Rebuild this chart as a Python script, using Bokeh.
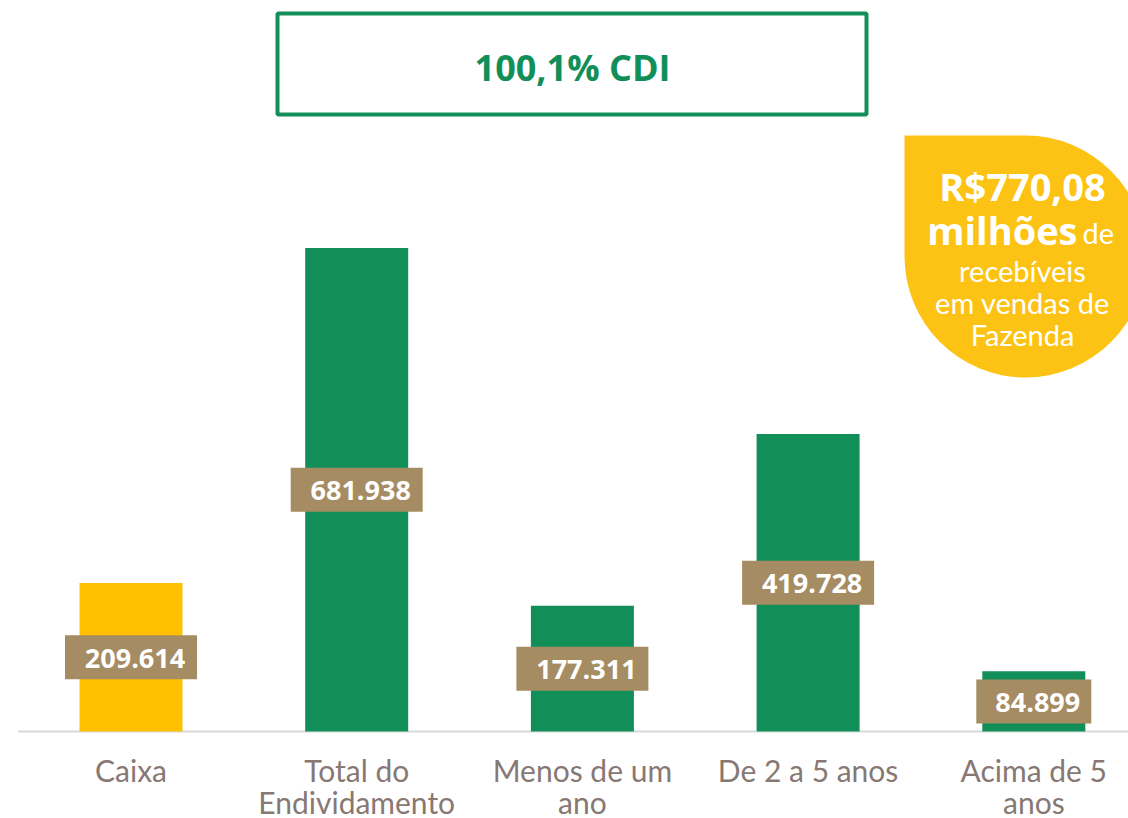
from bokeh.plotting import figure
from bokeh.models import Range1d, BoxAnnotation
from bokeh.core.properties import value
from bokeh.embed import file_html
from bokeh.resources import INLINE

# ---- data ----
categories = ["Caixa", "Total do Endividamento", "Menos de um ano", "De 2 a 5 anos", "Acima de 5 anos"]
tick_labels = ["Caixa", "Total do\nEndividamento", "Menos de um\nano", "De 2 a 5 anos", "Acima de 5\nanos"]
values = [209.614, 681.938, 177.311, 419.728, 84.899]
value_labels = ["209.614", "681.938", "177.311", "419.728", "84.899"]
bar_colors = ["#FFC000", "#128F59", "#128F59", "#128F59", "#128F59"]
headline = "100,1% CDI"
badge_amount = "R$770,08"
badge_unit = "milhões"
badge_unit_tail = "de"
badge_lines = ["recebíveis", "em vendas de", "Fazenda"]

# ---- layout ----
W, H = 1128, 818
SX = 225.7          # px per category
SY = 0.709          # px per unit
BASE = 731          # baseline, px from top
x_start = 0.5 - 130.5 / SX
x_end = x_start + W / SX
y_end = BASE / SY
y_start = -(H - BASE) / SY


def X(px):
    return x_start + px / SX


def Y(py):
    return y_end - py / SY


GREEN = "#128F59"
BROWN = "#A68C62"
LABEL = "#877873"
BADGE = "#FDC314"

p = figure(width=W, height=H, output_backend="svg", toolbar_location=None,
           x_range=Range1d(x_start, x_end), y_range=Range1d(y_start, y_end),
           min_border=0, min_border_left=0, min_border_right=0,
           min_border_top=0, min_border_bottom=0)
p.axis.visible = False
p.grid.visible = False
p.outline_line_color = None
p.background_fill_color = "white"
p.border_fill_color = "white"

xpos = [i + 0.5 for i in range(len(categories))]

# axis line
p.segment(x0=[0], y0=[0], x1=[x_end], y1=[0], line_color="#D9D9D9", line_width=2)

# bars
p.vbar(x=xpos, top=values, bottom=0, width=103 / SX, fill_color=bar_colors, line_color=None)

# value labels
mid = [v / 2 for v in values]
box_w = [17 * len(t) + 13 for t in value_labels]
p.rect(x=xpos, y=mid, width=box_w, height=44, width_units="screen", height_units="screen",
       fill_color=BROWN, line_color=None)
p.text(x=xpos, y=mid, text=value_labels, x_offset=4, y_offset=1, text_align="center",
       text_baseline="middle", text_font=value("Open Sans"), text_font_style="bold",
       text_font_size="27px", text_color="white")

# category labels (one glyph per line)
line1 = [t.split("\n")[0] for t in tick_labels]
line2 = [t.split("\n")[1] if "\n" in t else "" for t in tick_labels]
lab_style = dict(text_align="center", text_baseline="middle", text_font=value("Lato"),
                 text_font_size="30px", text_color=LABEL)
p.text(x=xpos, y=[0] * len(xpos), text=line1, y_offset=38, **lab_style)
p.text(x=xpos, y=[0] * len(xpos), text=line2, y_offset=70, **lab_style)

# headline box
p.add_layout(BoxAnnotation(left=X(277), right=X(866), top=Y(13), bottom=Y(114),
                           fill_color=None, fill_alpha=0, line_color=GREEN, line_alpha=1,
                           line_width=4, level="underlay"))
p.text(x=[X(572)], y=[Y(67)], text=[headline], text_align="center", text_baseline="middle",
       text_font=value("Open Sans"), text_font_style="bold", text_font_size="36px",
       text_color=GREEN)

# badge
p.add_layout(BoxAnnotation(left=X(904), right=X(1146), top=Y(135), bottom=Y(377),
                           fill_color=BADGE, fill_alpha=1, line_color=None,
                           border_radius=(0, 121, 121, 121), level="underlay"))
bold = dict(text_baseline="middle", text_font=value("Open Sans"), text_font_style="bold",
            text_font_size="38px", text_color="white")
reg = dict(text_baseline="middle", text_font=value("Lato"), text_font_size="29px",
           text_color="white")
p.text(x=[X(1022)], y=[Y(185)], text=[badge_amount], text_align="center", **bold)
p.text(x=[X(1077)], y=[Y(229)], text=[badge_unit], text_align="right", **bold)
p.text(x=[X(1082)], y=[Y(232)], text=[badge_unit_tail], text_align="left", **reg)
p.text(x=[X(1022)] * 3, y=[Y(270), Y(302), Y(334)], text=badge_lines, text_align="center", **reg)

open("out.html", "w").write(file_html(p, INLINE))
